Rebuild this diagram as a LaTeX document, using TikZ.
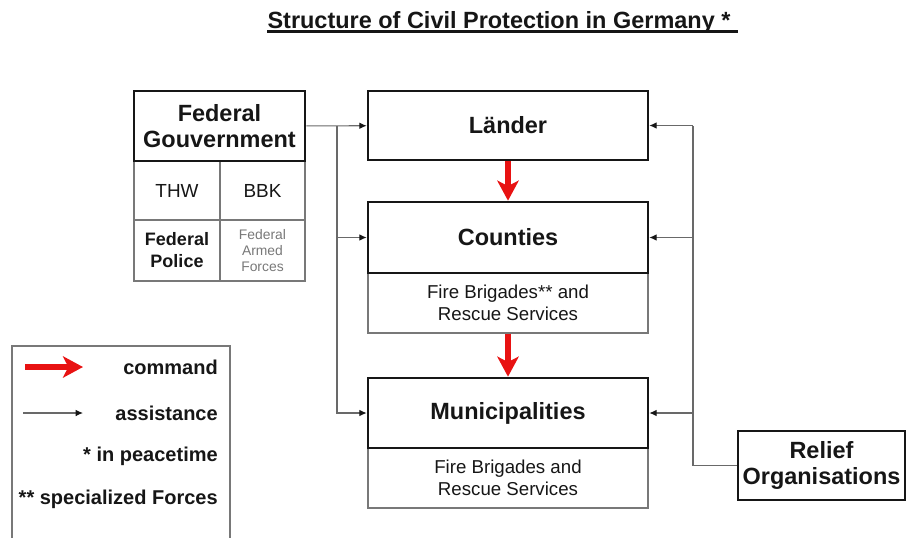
\documentclass[tikz,border=0pt]{standalone}
\usepackage{fontspec}
\setmainfont{Liberation Sans}
\usetikzlibrary{arrows.meta,calc}
\definecolor{cmdred}{RGB}{232,18,18}
\definecolor{linegray}{RGB}{105,105,105}
\definecolor{subgray}{RGB}{120,120,120}
\definecolor{inkblack}{RGB}{22,22,22}

\begin{document}
\begin{tikzpicture}[x=0.75pt,y=-0.75pt,
  mainbox/.style={draw=inkblack, line width=2pt, inner sep=0pt, align=center,
    font=\fontsize{17.6}{19.5}\selectfont\bfseries, text=inkblack},
  subbox/.style={draw=subgray, line width=0.8pt, inner sep=0pt, align=center, text=inkblack},
  assist/.style={draw=linegray, line width=0.8pt,
    -{Latex[length=5.5pt,width=5pt,color=inkblack]}},
  assistline/.style={draw=linegray, line width=0.8pt},
  cmd/.style={draw=cmdred, line width=4pt, -{Stealth[length=15pt,width=16pt,inset=4pt]}},
  legtext/.style={anchor=east, inner sep=0pt, text=inkblack,
    font=\fontsize{15}{17}\selectfont\bfseries}
]
\useasboundingbox (0,0) rectangle (907,537);

% title
\node[anchor=base, inner sep=0pt, text=inkblack,
  font=\fontsize{17.6}{20}\selectfont\bfseries] (title) at (499,28)
  {Structure of Civil Protection in Germany *};
\draw[inkblack, line width=1.6pt] ($(title.base west)+(0,3.5)$) -- ($(title.base east)+(7,3.5)$);

% federal level with its agencies
\node[subbox, minimum width=64.5pt, minimum height=44.25pt,
  font=\fontsize{14.2}{16}\selectfont] (thw) at (177,190.5) {THW};
\node[subbox, minimum width=63.75pt, minimum height=44.25pt,
  font=\fontsize{14.2}{16}\selectfont] (bbk) at (262.5,190.5) {BBK};
\node[subbox, minimum width=64.5pt, minimum height=45.75pt,
  font=\fontsize{13.5}{16.5}\selectfont\bfseries] (fpol) at (177,250.5) {Federal\\Police};
\node[subbox, minimum width=63.75pt, minimum height=45.75pt, text=subgray,
  font=\fontsize{10.4}{12}\selectfont] (faf) at (262.5,250.5) {Federal\\Armed\\Forces};
\node[mainbox, minimum width=128.25pt, minimum height=52.5pt] (fedgov) at (219.5,126)
  {Federal\\Gouvernment};

% state, county and municipal levels
\node[subbox, minimum width=210pt, minimum height=45pt,
  font=\fontsize{14}{16.5}\selectfont] (countiessub) at (508,303)
  {Fire Brigades** and\\Rescue Services};
\node[subbox, minimum width=210pt, minimum height=45pt,
  font=\fontsize{14}{16.5}\selectfont] (munissub) at (508,478)
  {Fire Brigades and\\Rescue Services};
\node[mainbox, minimum width=210pt, minimum height=51.75pt] (laender) at (508,125.5) {Länder};
\node[mainbox, minimum width=210pt, minimum height=53.25pt] (counties) at (508,237.5) {Counties};
\node[mainbox, minimum width=210pt, minimum height=52.5pt] (munis) at (508,413) {Municipalities};

% relief organisations
\node[mainbox, minimum width=125.25pt, minimum height=51.75pt] (relief) at (821.5,465.5)
  {Relief\\Organisations};

% assistance from the federal level
\coordinate (jl) at (337,126);
\draw[assist] (fedgov) -- (laender);
\draw[assist] (jl) |- (counties.west);
\draw[assist] (jl) |- (munis.west);

% assistance from the relief organisations
\coordinate (jr) at (693,125.5);
\draw[assistline] (relief.west) -| (jr);
\draw[assist] (jr) -- (laender.east);
\draw[assist] (jr |- counties.east) -- (counties.east);
\draw[assist] (jr |- munis.east) -- (munis.east);

% chain of command
\draw[cmd] (laender.south) -- (counties.north);
\draw[cmd] (countiessub.south) -- (munis.north);

% legend
\draw[subgray, line width=0.8pt] (12,540) -- (12,346) -- (230,346) -- (230,540);
\coordinate (lc1) at (25,367);
\coordinate (lc2) at (83,367);
\coordinate (la1) at (23,413);
\coordinate (la2) at (83,413);
\draw[cmd] (lc1) -- (lc2);
\draw[assist] (la1) -- (la2);
\node[legtext] (lcmd) at (218,367) {command};
\node[legtext] (lass) at (218,413) {assistance};
\node[legtext] (lpeace) at (218,456) {* in peacetime};
\node[legtext] (lspec) at (218,499) {** specialized Forces};
\end{tikzpicture}
\end{document}
